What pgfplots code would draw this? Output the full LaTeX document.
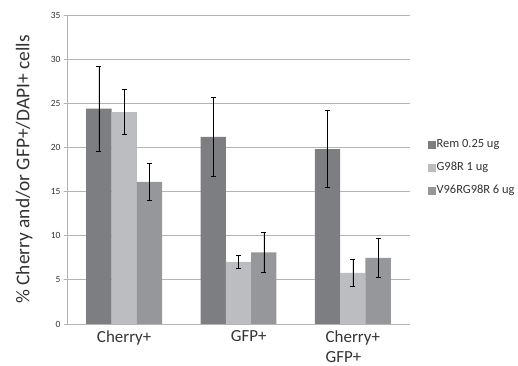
\documentclass[border=0pt]{standalone}
\usepackage{pgfplots}
\pgfplotsset{compat=1.18}
\usepackage{fontspec}
\setmainfont{Carlito}
\definecolor{cdark}{HTML}{7D7E82}
\definecolor{clight}{HTML}{BCBDC1}
\definecolor{cmed}{HTML}{96979B}
\definecolor{cgrid}{HTML}{B4B4B4}
\definecolor{ctext}{HTML}{333333}
\begin{document}
\begin{tikzpicture}
\path[use as bounding box] (-67bp,-42bp) rectangle (451bp,324bp);
\begin{axis}[
  at={(0,0)}, anchor=south west,
  scale only axis,
  width=343bp, height=309bp,
  ybar=0pt, bar width=25.3bp,
  xmin=-0.5, xmax=2.5,
  ymin=0, ymax=35,
  ytick={0,5,...,35},
  xtick={0,1,2},
  xticklabels={Cherry+, \hspace*{1.2em}GFP+, Cherry+\\GFP+},
  xticklabel style={font=\fontsize{17}{20.5}\selectfont, align=left, text=ctext, yshift=0bp},
  x tick style={draw=none},
  yticklabel style={font=\fontsize{9.5}{10}\selectfont, text=ctext},
  /pgf/number format/assume math mode=true,
  tick align=outside, major tick length=3bp,
  y tick style={cgrid, line width=0.8bp},
  axis x line*=bottom, axis y line*=left,
  axis line style={cgrid, line width=0.8bp, -},
  ymajorgrids, grid style={cgrid, line width=0.8bp},
  ylabel={\% Cherry and/or GFP+/DAPI+ cells},
  ylabel style={at={(axis description cs:-0.125,0.5)}, anchor=center, text=ctext, font=\fontsize{19.5}{21}\selectfont},
  legend style={draw=none, at={(axis description cs:1.042,0.505)}, anchor=west,
    font=\fontsize{12.5}{14}\selectfont, row sep=9bp, text=ctext,
    nodes={inner sep=1bp, text height=9bp, text depth=3bp}},
  legend cell align=left,
  legend image code/.code={\fill[#1] (0bp,-4bp) rectangle (8bp,4bp);},
  error bars/y dir=both, error bars/y explicit,
  error bars/error bar style={black, line width=0.6bp},
  error bars/error mark options={black, rotate=90, mark size=2.5bp, line width=0.6bp},
]
\addplot[fill=cdark, draw=none] coordinates {
  (0,24.4) +- (0,4.8)
  (1,21.2) +- (0,4.5)
  (2,19.8) +- (0,4.35)
};
\addplot[fill=clight, draw=none] coordinates {
  (0,24.0) +- (0,2.55)
  (1,7.05) +- (0,0.7)
  (2,5.8) +- (0,1.55)
};
\addplot[fill=cmed, draw=none] coordinates {
  (0,16.1) +- (0,2.1)
  (1,8.1) +- (0,2.25)
  (2,7.5) +- (0,2.25)
};
\legend{Rem 0.25 ug, G98R 1 ug, V96RG98R 6 ug}
\end{axis}
\end{tikzpicture}
\end{document}
